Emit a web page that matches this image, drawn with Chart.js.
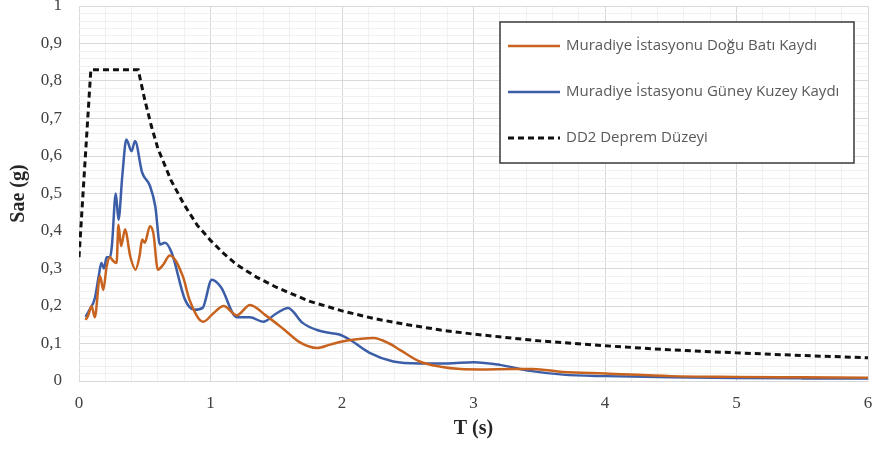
<!DOCTYPE html>
<html>
<head>
<meta charset="utf-8">
<script src="https://cdn.jsdelivr.net/npm/chart.js@4.4.0/dist/chart.umd.min.js"></script>
<style>
  html, body { margin: 0; padding: 0; background: #ffffff; }
  #wrap { width: 874px; height: 457px; position: relative; }
</style>
</head>
<body>
<div id="wrap"><canvas id="spectrumChart"></canvas></div>
<script>
// Tick labels
const xTickLabels = ["0", "1", "2", "3", "4", "5", "6"];
const yTickLabels = ["0", "0,1", "0,2", "0,3", "0,4", "0,5", "0,6", "0,7", "0,8", "0,9", "1"];

// Series names
const seriesNames = [
    "Muradiye İstasyonu Doğu Batı Kaydı",
    "Muradiye İstasyonu Güney Kuzey Kaydı",
    "DD2 Deprem Düzeyi"
];

// Doğu Batı (orange)
const periodsEW = [0.05, 0.07, 0.096, 0.12, 0.16, 0.185, 0.21, 0.236, 0.26, 0.286, 0.30, 0.32, 0.35, 0.39, 0.43, 0.46, 0.48, 0.50, 0.54, 0.565, 0.60, 0.64, 0.69, 0.79, 0.84, 0.945, 1.02, 1.10, 1.20, 1.30, 1.42, 1.55, 1.68, 1.81, 1.91, 2.04, 2.24, 2.36, 2.44, 2.59, 2.75, 2.90, 3.05, 3.30, 3.45, 3.68, 4.0, 4.5, 5.0, 5.5, 6.0];
const valuesEW = [0.163, 0.175, 0.20, 0.17, 0.28, 0.243, 0.305, 0.33, 0.32, 0.315, 0.417, 0.36, 0.404, 0.332, 0.297, 0.332, 0.377, 0.369, 0.413, 0.395, 0.297, 0.31, 0.335, 0.279, 0.217, 0.158, 0.18, 0.20, 0.175, 0.203, 0.175, 0.14, 0.103, 0.088, 0.097, 0.108, 0.115, 0.10, 0.083, 0.052, 0.038, 0.032, 0.031, 0.032, 0.032, 0.024, 0.02, 0.013, 0.011, 0.01, 0.009];

// Güney Kuzey (blue)
const periodsNS = [0.05, 0.08, 0.12, 0.15, 0.17, 0.19, 0.21, 0.236, 0.25, 0.28, 0.30, 0.33, 0.36, 0.40, 0.426, 0.48, 0.54, 0.58, 0.616, 0.654, 0.705, 0.806, 0.88, 0.94, 1.01, 1.08, 1.20, 1.30, 1.40, 1.50, 1.59, 1.70, 1.81, 1.91, 1.98, 2.06, 2.21, 2.39, 2.59, 2.80, 3.0, 3.2, 3.43, 3.68, 4.0, 4.5, 5.0, 5.5, 6.0];
const valuesNS = [0.171, 0.19, 0.22, 0.28, 0.315, 0.30, 0.33, 0.33, 0.36, 0.50, 0.43, 0.55, 0.644, 0.613, 0.64, 0.556, 0.52, 0.466, 0.364, 0.369, 0.342, 0.217, 0.19, 0.195, 0.27, 0.25, 0.17, 0.17, 0.158, 0.18, 0.195, 0.155, 0.136, 0.128, 0.124, 0.11, 0.075, 0.052, 0.047, 0.047, 0.05, 0.043, 0.027, 0.017, 0.013, 0.01, 0.008, 0.007, 0.007];

// DD2 design spectrum (dashed)
const periodsDD2 = [0, 0.09, 0.45, 0.5, 0.55, 0.6, 0.7, 0.8, 0.9, 1.0, 1.1, 1.2, 1.35, 1.5, 1.75, 2.0, 2.25, 2.5, 2.75, 3.0, 3.5, 4.0, 4.5, 5.0, 5.5, 6.0];
const valuesDD2 = [0.33, 0.83, 0.83, 0.75, 0.68, 0.62, 0.535, 0.47, 0.415, 0.375, 0.34, 0.31, 0.277, 0.25, 0.213, 0.187, 0.166, 0.15, 0.136, 0.125, 0.107, 0.094, 0.083, 0.075, 0.068, 0.062];

const toPoints = (xs, ys) => xs.map((x, i) => ({ x: x, y: ys[i] }));

// Legend drawn as a boxed panel inside the plot
const boxLegend = {
    id: "boxLegend",
    afterDatasetsDraw(chart) {
        const ctx = chart.ctx;
        const left = 500, top = 22, w = 354, h = 141;
        ctx.save();
        ctx.fillStyle = "#ffffff";
        ctx.fillRect(left, top, w, h);
        ctx.strokeStyle = "#3a3a3a";
        ctx.lineWidth = 1.5;
        ctx.strokeRect(left, top, w, h);
        const rows = [46, 92, 138];
        chart.data.datasets.forEach((ds, i) => {
            const y = rows[i];
            ctx.beginPath();
            ctx.strokeStyle = ds.borderColor;
            ctx.lineWidth = ds.borderWidth;
            ctx.setLineDash(ds.borderDash || []);
            ctx.moveTo(508, y);
            ctx.lineTo(560, y);
            ctx.stroke();
            ctx.setLineDash([]);
            ctx.fillStyle = "#595959";
            ctx.font = "15px 'Open Sans'";
            ctx.textBaseline = "middle";
            ctx.textAlign = "left";
            ctx.fillText(ds.label, 566, y);
        });
        ctx.restore();
    }
};

const gridColor = (ctx, per) => {
    const v = ctx.tick.value * per;
    return Math.abs(v - Math.round(v)) < 1e-6 ? "#d9d9d9" : "#f0f0f0";
};

const ctx = document.getElementById("spectrumChart").getContext("2d");
new Chart(ctx, {
    type: "line",
    data: {
        datasets: [
            {
                label: seriesNames[0],
                data: toPoints(periodsEW, valuesEW),
                borderColor: "#c8631f",
                borderWidth: 2.5,
                pointRadius: 0,
                cubicInterpolationMode: "monotone",
                fill: false
            },
            {
                label: seriesNames[1],
                data: toPoints(periodsNS, valuesNS),
                borderColor: "#3c5ea8",
                borderWidth: 2.5,
                pointRadius: 0,
                cubicInterpolationMode: "monotone",
                fill: false
            },
            {
                label: seriesNames[2],
                data: toPoints(periodsDD2, valuesDD2),
                borderColor: "#111111",
                borderWidth: 3,
                borderDash: [6, 4],
                pointRadius: 0,
                tension: 0,
                fill: false
            }
        ]
    },
    options: {
        responsive: true,
        maintainAspectRatio: false,
        animation: false,
        layout: { padding: { left: 0, right: 6, top: 6, bottom: 0 } },
        plugins: {
            legend: { display: false },
            tooltip: { enabled: false }
        },
        scales: {
            x: {
                type: "linear",
                min: 0,
                max: 6,
                afterFit: (scale) => {
                    scale.height = 76;
                    scale.paddingLeft = 0;
                    scale.paddingRight = 0;
                },
                border: { display: false },
                grid: {
                    drawTicks: false,
                    color: (c) => gridColor(c, 1),
                    lineWidth: 1
                },
                ticks: {
                    stepSize: 0.2,
                    autoSkip: false,
                    maxRotation: 0,
                    padding: 12,
                    color: "#404040",
                    font: { family: "'Liberation Serif'", size: 17 },
                    callback: (value) => {
                        const k = Math.round(value);
                        return Math.abs(value - k) < 1e-6 ? xTickLabels[k] : "";
                    }
                },
                title: {
                    display: true,
                    text: "T (s)",
                    color: "#262626",
                    font: { family: "'Liberation Serif'", size: 20, weight: "bold" },
                    padding: { top: 0, bottom: 16 }
                }
            },
            y: {
                min: 0,
                max: 1,
                afterFit: (scale) => {
                    scale.width = 79;
                    scale.paddingTop = 0;
                    scale.paddingBottom = 0;
                },
                border: { display: false },
                grid: {
                    drawTicks: false,
                    color: (c) => gridColor(c, 10),
                    lineWidth: 1
                },
                ticks: {
                    stepSize: 0.02,
                    autoSkip: false,
                    padding: 17,
                    color: "#404040",
                    font: { family: "'Liberation Serif'", size: 17 },
                    callback: (value) => {
                        const k = Math.round(value * 10);
                        return Math.abs(value * 10 - k) < 1e-6 ? yTickLabels[k] : "";
                    }
                },
                title: {
                    display: true,
                    text: "Sae (g)",
                    color: "#262626",
                    font: { family: "'Liberation Serif'", size: 20, weight: "bold" },
                    padding: 7
                }
            }
        }
    },
    plugins: [boxLegend]
});
</script>
</body>
</html>
